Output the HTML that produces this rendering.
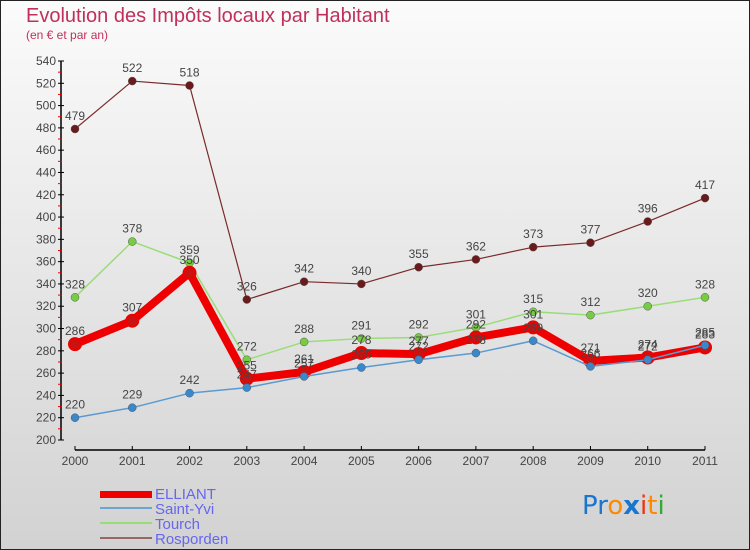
<!DOCTYPE html>
<html><head><meta charset="utf-8">
<style>
body{margin:0;width:750px;height:550px;overflow:hidden;font-family:"Liberation Sans",sans-serif}
svg{display:block}
</style></head>
<body>
<svg id="chart" width="750" height="550" xmlns="http://www.w3.org/2000/svg">
<defs>
<linearGradient id="bg" x1="0" y1="0" x2="0" y2="1">
<stop offset="0" stop-color="#fbfbfb"/><stop offset="1" stop-color="#d2d2d2"/>
</linearGradient>
</defs>
<rect x="0.5" y="0.5" width="749" height="549" fill="url(#bg)" stroke="#222"/>
<text x="26" y="22" font-size="20" fill="#c0305a">Evolution des Impôts locaux par Habitant</text>
<text x="26" y="39" font-size="12" fill="#c0305a">(en € et par an)</text>
<g id="axes"></g>
<g id="series"></g>
<g id="legend">
<rect x="100" y="491" width="52" height="7" fill="#e00"/>
<text x="155" y="499" font-size="15" fill="#6666ee">ELLIANT</text>
<line x1="100" y1="508" x2="152" y2="508" stroke="#6ea6cf" stroke-width="2"/>
<text x="155" y="514" font-size="15" fill="#6666ee">Saint-Yvi</text>
<line x1="100" y1="523" x2="152" y2="523" stroke="#99dd77" stroke-width="2"/>
<text x="155" y="529" font-size="15" fill="#6666ee">Tourch</text>
<line x1="100" y1="538" x2="152" y2="538" stroke="#996666" stroke-width="2"/>
<text x="155" y="544" font-size="15" fill="#6666ee">Rosporden</text>
</g>
<g font-size="26" font-family="'DejaVu Sans',sans-serif">
<text x="582" y="514"><tspan fill="#1a75cf">Pr</tspan><tspan fill="#ff8800">o</tspan><tspan fill="#1a75cf" font-weight="bold">x</tspan><tspan fill="#ee3311">i</tspan><tspan fill="#ff8800">t</tspan><tspan fill="#33aa33">i</tspan></text>
</g>
</svg>
<script>
const years=[2000,2001,2002,2003,2004,2005,2006,2007,2008,2009,2010,2011];
const elliant=[286,307,350,255,261,278,277,292,301,271,274,283];
const saintYvi=[220,229,242,247,257,265,272,278,289,266,272,285];
const tourch=[328,378,359,272,288,291,292,301,315,312,320,328];
const rosporden=[479,522,518,326,342,340,355,362,373,377,396,417];
const yTicks=[200,220,240,260,280,300,320,340,360,380,400,420,440,460,480,500,520,540];
const NS="http://www.w3.org/2000/svg";
const x0=75,x1=705,yMin=200,yMax=540,py0=440,py1=61;
function xs(i){return x0+(x1-x0)*i/(years.length-1);}
function ys(v){return py0-(v-yMin)*(py0-py1)/(yMax-yMin);}
function mk(tag,attrs,parent){const e=document.createElementNS(NS,tag);for(const k in attrs)e.setAttribute(k,attrs[k]);parent.appendChild(e);return e;}
const axes=document.getElementById('axes');
let ya=mk('line',{x1:61,y1:py1,x2:61,y2:py0,stroke:'#000','stroke-width':1.5},axes);


yTicks.forEach((t,i)=>{
  const y=ys(t);
  let tk=mk('line',{x1:58,y1:y,x2:64,y2:y,stroke:'#000'},axes);
  
  
  if(i<yTicks.length-1){let r=mk('line',{x1:58,y1:y-11.15,x2:62,y2:y-11.15,stroke:'#e00'},axes);
  
  }
  let lb=mk('text',{x:56,y:y+4,'font-size':12,fill:'#444','text-anchor':'end'},axes);
  lb.textContent=t;
  
  
});
let xa=mk('line',{x1:75,y1:450,x2:705,y2:450,stroke:'#000','stroke-width':1.5},axes);


years.forEach((yr,i)=>{
  const x=xs(i);
  let tk=mk('line',{x1:x,y1:446,x2:x,y2:450,stroke:'#000'},axes);
  
  
  let lb=mk('text',{x:x,y:465,'font-size':12,fill:'#444','text-anchor':'middle'},axes);
  lb.textContent=yr;
  
  
});
const g=document.getElementById('series');
function draw(data,color,dot,w,r,name){
  const grp=mk('g',{},g);
  
  
  let p=mk('polyline',{points:data.map((v,i)=>xs(i)+','+ys(v)).join(' '),fill:'none',stroke:color,'stroke-width':w,'stroke-linejoin':'round'},grp);
  
  
  data.forEach((v,i)=>{
    let c=mk('circle',{cx:xs(i),cy:ys(v),r:r,fill:dot,stroke:w>3?'#e00':'#555','stroke-width':w>3?2:0.5},grp);
    
    
    let t=mk('text',{x:xs(i),y:ys(v)-9,'font-size':12,fill:'#444','text-anchor':'middle'},grp);
    t.textContent=v;
    
    
  });
}
draw(rosporden,'#7a2a2a','#6a1a1a',1.2,4,'rosporden');
draw(tourch,'#99dd77','#77cc44',1.5,4,'tourch');
draw(elliant,'#ee0000','#cc1111',8,6,'elliant');
draw(saintYvi,'#5a9ad0','#3a88cc',1.5,4,'saint-yvi');
</script>
</body></html>
